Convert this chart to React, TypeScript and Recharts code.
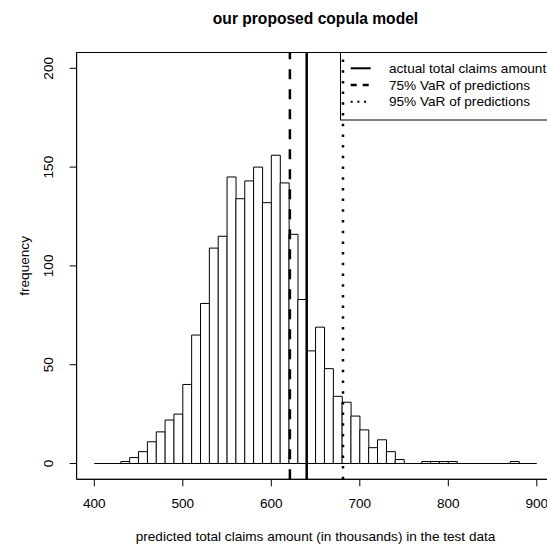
import { ComposedChart, Bar, XAxis, YAxis, ReferenceLine, ReferenceArea, Label } from 'recharts';

// histogram bins (left edges, width 10) and counts
const BIN_WIDTH = 10;
const BIN_LEFT = [
  400, 410, 420, 430, 440, 450, 460, 470, 480, 490,
  500, 510, 520, 530, 540, 550, 560, 570, 580, 590,
  600, 610, 620, 630, 640, 650, 660, 670, 680, 690,
  700, 710, 720, 730, 740, 750, 760, 770, 780, 790,
  800, 810, 820, 830, 840, 850, 860, 870, 880, 890,
];
const COUNTS = [
  0, 0, 0, 1, 3, 6, 11, 16, 22, 25,
  40, 65, 81, 109, 115, 145, 134, 143, 150, 132,
  156, 142, 116, 83, 57, 69, 48, 34, 31, 24,
  17, 8, 12, 6, 2, 0, 0, 1, 1, 1,
  1, 0, 0, 0, 0, 0, 0, 1, 0, 0,
];

const ACTUAL_TOTAL = 640;
const VAR_75 = 621;
const VAR_95 = 681;

const X_TICKS = [400, 500, 600, 700, 800, 900];
const Y_TICKS = [0, 50, 100, 150, 200];
const X_DOMAIN = [380, 920];
const Y_DOMAIN = [-8, 208];

const LEGEND_LABELS = ['actual total claims amount', '75% VaR of predictions', '95% VaR of predictions'];
const LEGEND_DASH = [undefined, '6 6', '2 4.7'];
const LEGEND_WIDTH = [2, 2.5, 2];

const FONT = '"Liberation Sans", Arial, Helvetica, sans-serif';
const FS = 13.6;

const data = BIN_LEFT.map((left, i) => ({ x: left + BIN_WIDTH / 2, count: COUNTS[i] }));

function XTick(props: any) {
  const { x, y, payload } = props;
  return (
    <text x={x} y={y + 20} textAnchor="middle" fontSize={FS} fontFamily={FONT} fill="#000">
      {payload.value}
    </text>
  );
}

function YTick(props: any) {
  const { x, y, payload } = props;
  const bx = x - 14.6;
  return (
    <text
      x={bx}
      y={y}
      transform={`rotate(-90, ${bx}, ${y})`}
      textAnchor="middle"
      fontSize={FS}
      fontFamily={FONT}
      fill="#000"
    >
      {payload.value}
    </text>
  );
}

export default function App() {
  return (
    <div style={{ position: 'absolute', left: 0, top: 0, width: 547, height: 547, overflow: 'hidden', background: '#fff' }}>
      <ComposedChart
        width={570}
        height={547}
        data={data}
        margin={{ top: 52.5, right: 15.5, bottom: 0, left: 0 }}
        barCategoryGap={0}
        barGap={0}
      >
        <XAxis
          dataKey="x"
          type="number"
          domain={X_DOMAIN}
          ticks={X_TICKS}
          allowDataOverflow
          height={67.7}
          tickSize={7}
          tickMargin={2}
          tick={<XTick />}
          stroke="#000"
          tickLine={{ stroke: '#000' }}
        >
          <Label
            content={(p: any) => {
              const vb = p.viewBox;
              return (
                <text x={vb.x + vb.width / 2} y={vb.y + 62} textAnchor="middle" fontSize={FS} fontFamily={FONT} fill="#000">
                  predicted total claims amount (in thousands) in the test data
                </text>
              );
            }}
          />
        </XAxis>
        <YAxis
          type="number"
          domain={Y_DOMAIN}
          ticks={Y_TICKS}
          allowDataOverflow
          width={76.6}
          tickSize={7}
          tickMargin={2}
          tick={<YTick />}
          stroke="#000"
          tickLine={{ stroke: '#000' }}
        >
          <Label
            content={(p: any) => {
              const vb = p.viewBox;
              const cy = vb.y + vb.height / 2;
              return (
                <text x={29} y={cy} transform={`rotate(-90, 29, ${cy})`} textAnchor="middle" fontSize={FS} fontFamily={FONT} fill="#000">
                  frequency
                </text>
              );
            }}
          />
        </YAxis>
        <ReferenceArea
          x1={X_DOMAIN[0]}
          x2={X_DOMAIN[1]}
          y1={Y_DOMAIN[0]}
          y2={Y_DOMAIN[1]}
          fill="none"
          stroke="#000"
          strokeWidth={1}
          ifOverflow="visible"
        />
        <ReferenceLine
          segment={[
            { x: BIN_LEFT[0], y: 0 },
            { x: BIN_LEFT[BIN_LEFT.length - 1] + BIN_WIDTH, y: 0 },
          ]}
          stroke="#000"
          strokeWidth={1}
        />
        <Bar dataKey="count" fill="#fff" stroke="#000" strokeWidth={1} isAnimationActive={false} />
        <ReferenceLine x={ACTUAL_TOTAL} stroke="#000" strokeWidth={2.5} />
        <ReferenceLine x={VAR_75} stroke="#000" strokeWidth={2.5} strokeDasharray="10 10" />
        <ReferenceLine x={VAR_95} stroke="#000" strokeWidth={2.5} strokeDasharray="2.5 8.2" />
      </ComposedChart>
      <svg
        width={547}
        height={547}
        style={{ position: 'absolute', left: 0, top: 0, pointerEvents: 'none' }}
      >
        <text x={315.5} y={24} textAnchor="middle" fontSize={15.6} fontWeight="bold" fontFamily={FONT} fill="#000">
          our proposed copula model
        </text>
        <rect x={340.5} y={52.5} width={214} height={67.5} fill="none" stroke="#000" strokeWidth={1} />
        {LEGEND_LABELS.map((label, i) => {
          const cy = 68.3 + i * 16.7;
          return (
            <g key={label}>
              <line x1={350.7} x2={370.7} y1={cy} y2={cy} stroke="#000" strokeWidth={LEGEND_WIDTH[i]} strokeDasharray={LEGEND_DASH[i]} />
              <text x={389} y={cy + 4.7} fontSize={FS} fontFamily={FONT} fill="#000">
                {label}
              </text>
            </g>
          );
        })}
      </svg>
    </div>
  );
}
